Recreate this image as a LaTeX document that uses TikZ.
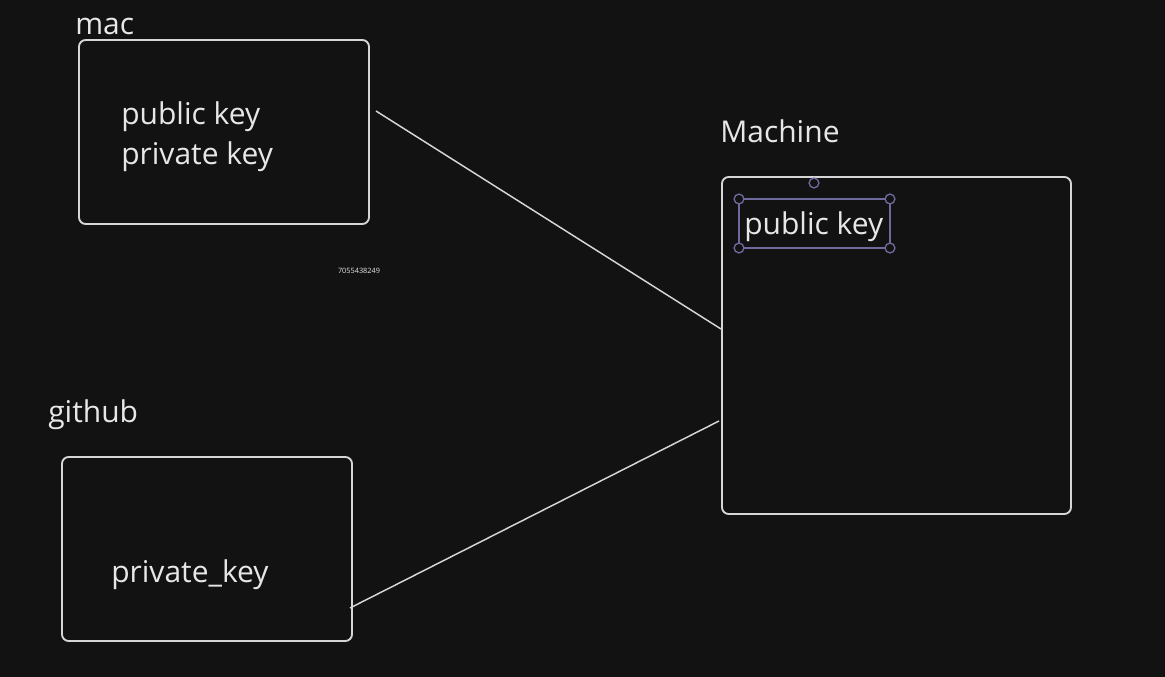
\documentclass[tikz,border=0pt]{standalone}
\usepackage{fontspec}
\setmainfont{Open Sans}
\definecolor{canvas}{HTML}{121212}
\definecolor{ink}{HTML}{D6D6D6}
\definecolor{pick}{HTML}{6E6A9E}
\newcommand{\txtsize}{\fontsize{22.5}{28}\selectfont}
\tikzset{
  keybox/.style={draw=ink,line width=1.4pt,rounded corners=5pt,inner sep=0pt},
  keytext/.style={text=ink!60!white,anchor=base west,inner sep=0pt,font=\txtsize},
  wire/.style={draw=ink,line width=1.1pt},
  handle/.style={circle,draw=pick,fill=canvas,line width=1pt,inner sep=2.6pt}
}
\begin{document}
\begin{tikzpicture}[x=0.75pt,y=-0.75pt]
            \fill[canvas] (0,0) rectangle (1165,677);
            \useasboundingbox (0,0) rectangle (1165,677);
            % boxes
            \node[keybox,minimum width=217.5pt,minimum height=138pt] (mac) at (224,132){};
            \node[keybox,minimum width=217.5pt,minimum height=138pt] (github) at (207,549){};
            \node[keybox,minimum width=261.75pt,minimum height=252.75pt] (machine) at (896.5,345.5){};
            % titles
            \node[keytext] (maclabel) at (75,35) {mac};
            \node[keytext] (githublabel) at (48,423) {github};
            \node[keytext] (machinelabel) at (720,143) {Machine};
            % contents
            \node[keytext] (macpub) at (121,125) {public key};
            \node[keytext] (macpriv) at (121,165) {private key};
            \node[keytext] (ghpriv) at (111,582) {private\_key};
            \node[keytext] (machpub) at (744,235) {public key};
            \node[text=ink!60,font=\fontsize{5.5}{6}\selectfont,inner sep=0pt] (stamp) at (359,271) {7055438249};
            % selection frame
            \draw[pick,line width=1.2pt] (739,199) rectangle (890,248);
            \node[handle] (ha) at (739,199){};
            \node[handle] (hb) at (890,199){};
            \node[handle] (hc) at (739,248){};
            \node[handle] (hd) at (890,248){};
            \node[handle] (hr) at (814,183){};
            % connectors
            \coordinate (macout) at (376,111);
            \coordinate (machin) at (721,329);
            \coordinate (ghout) at (350,608);
            \coordinate (machin2) at (719,421);
            \draw[wire] (macout)--(machin);
            \draw[wire] (ghout)--(machin2);
             \end{tikzpicture}
\end{document}
